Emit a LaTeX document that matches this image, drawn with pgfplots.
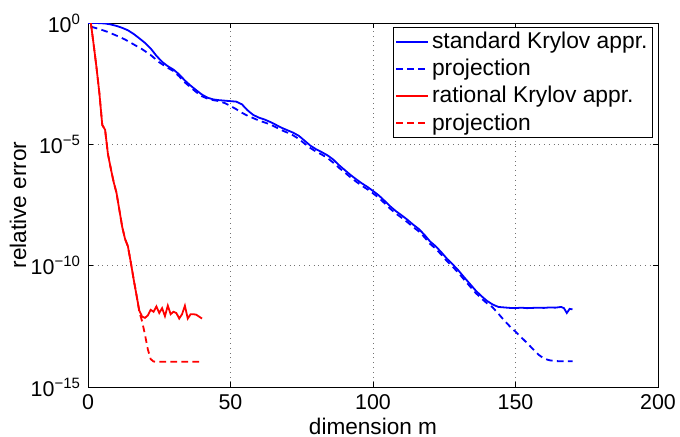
\documentclass[border=0pt]{standalone}
\usepackage{fontspec}
\setmainfont{Liberation Sans}
\usepackage{pgfplots}
\usepackage{pgfplotstable}
\pgfplotsset{compat=1.18}
\usetikzlibrary{calc}

% columns: m = dimension, le = log10(relative error)
\pgfplotstableread{
m le
0 0
3 0
6 -0.02
8 -0.06
10 -0.12
12 -0.2
14 -0.3
16 -0.45
18 -0.63
20 -0.82
22 -1.05
24 -1.35
26 -1.6
28 -1.78
30 -1.92
32 -2.12
34 -2.37
36 -2.58
38 -2.77
40 -2.95
42 -3.08
44 -3.15
46 -3.18
48 -3.2
50 -3.22
52 -3.24
54 -3.35
56 -3.6
58 -3.79
60 -3.9
62 -3.98
64 -4.08
66 -4.2
68 -4.32
70 -4.42
72 -4.52
74 -4.65
76 -4.85
78 -5.05
80 -5.2
82 -5.32
84 -5.45
86 -5.62
88 -5.85
90 -6.05
92 -6.25
94 -6.43
96 -6.6
98 -6.75
100 -6.92
102 -7.1
104 -7.32
106 -7.55
108 -7.75
110 -7.92
112 -8.1
114 -8.3
116 -8.48
118 -8.72
120 -9.0
122 -9.2
124 -9.45
126 -9.72
128 -9.95
130 -10.2
132 -10.48
134 -10.75
136 -11.02
138 -11.25
140 -11.45
142 -11.6
144 -11.7
146 -11.72
148 -11.74
150 -11.75
152 -11.73
154 -11.75
156 -11.74
158 -11.73
160 -11.74
162 -11.72
164 -11.73
166 -11.7
167 -11.75
168 -11.95
169 -11.78
170 -11.8
}\stdappr

\pgfplotstableread{
m le
1 -0.15
4 -0.25
7 -0.37
10 -0.52
13 -0.68
16 -0.88
19 -1.08
22 -1.32
25 -1.62
28 -1.85
30 -1.98
32 -2.2
34 -2.45
36 -2.65
38 -2.85
40 -3.02
42 -3.12
44 -3.18
46 -3.22
48 -3.3
50 -3.42
52 -3.55
54 -3.7
56 -3.82
58 -3.92
60 -4.02
62 -4.1
64 -4.18
66 -4.3
68 -4.42
70 -4.52
72 -4.63
74 -4.78
76 -4.97
78 -5.15
80 -5.3
82 -5.42
84 -5.56
86 -5.75
88 -5.96
90 -6.15
92 -6.35
94 -6.53
96 -6.7
98 -6.85
100 -7.02
102 -7.2
104 -7.42
106 -7.65
108 -7.85
110 -8.02
112 -8.2
114 -8.4
116 -8.58
118 -8.82
120 -9.1
122 -9.3
124 -9.55
126 -9.82
128 -10.05
130 -10.3
132 -10.58
134 -10.85
136 -11.12
138 -11.35
140 -11.55
142 -11.72
144 -11.98
146 -12.25
148 -12.5
150 -12.72
152 -12.95
154 -13.18
156 -13.42
158 -13.66
160 -13.83
162 -13.9
164 -13.93
166 -13.94
168 -13.94
170 -13.94
}\stdproj

\pgfplotstableread{
m le
1 0
2 -0.9
3 -1.85
4 -2.9
5 -4.2
6 -4.4
7 -5.4
8 -6.0
9 -6.55
10 -7.0
11 -7.7
12 -8.4
13 -8.9
14 -9.2
15 -9.85
16 -10.55
17 -11.2
18 -11.85
19 -12.1
20 -12.15
21 -12.05
22 -11.82
23 -11.9
24 -11.68
25 -11.95
26 -11.75
27 -12.08
28 -11.65
29 -12.0
30 -11.9
31 -11.95
32 -12.18
33 -12.0
34 -11.65
35 -12.18
36 -12.0
37 -12.0
38 -12.02
39 -12.1
40 -12.18
}\ratappr

\pgfplotstableread{
m le
1 0
2 -0.9
3 -1.85
4 -2.9
5 -4.2
6 -4.4
7 -5.4
8 -6.0
9 -6.55
10 -7.0
11 -7.7
12 -8.4
13 -8.9
14 -9.2
15 -9.85
16 -10.55
17 -11.2
18 -11.9
19 -12.3
20 -12.85
21 -13.45
22 -13.85
23 -13.95
24 -13.96
28 -13.96
32 -13.96
36 -13.96
40 -13.96
}\ratproj

\begin{document}
\begin{tikzpicture}
\begin{axis}[
    name=ax,
    scale only axis,
    width=285pt, height=182pt,
    xmin=0, xmax=200,
    ymode=log, ymin=1e-15, ymax=1,
    xtick={0,50,100,150,200},
    ytick={1e-15,1e-10,1e-5,1},
    yticklabels={{10\textsuperscript{−15}},{10\textsuperscript{−10}},{10\textsuperscript{−5}},{10\textsuperscript{0}}},
    minor ytick={},
    /pgf/number format/assume math mode=true,
    tick label style={font=\fontsize{10.7}{12}\selectfont},
    label style={font=\fontsize{11.3}{13}\selectfont},
    xlabel={dimension m},
    ylabel={relative error},
    xlabel style={at={(axis description cs:0.5,-0.107)}, anchor=center},
    ylabel style={at={(axis description cs:-0.1228,0.5)}, anchor=center, rotate=0},
    tick align=inside,
    major tick length=2.5pt,
    xmajorgrids, ymajorgrids,
    grid style={dotted, black!55, line width=0.4pt},
    axis line style={black, line width=0.5pt},
    every tick/.style={black, line width=0.5pt},
    legend cell align=left,
    legend style={
        at={(0.991,0.989)}, anchor=north east,
        draw=black,
        font=\fontsize{11.4}{13}\selectfont,
        inner xsep=1pt, inner ysep=0.5pt, row sep=0pt,
        nodes={inner xsep=1.5pt, inner ysep=1.9pt},
    },
    legend image code/.code={\draw[#1] (0pt,0pt) -- (16pt,0pt);},
]
\addplot[blue, line width=0.9pt] table[x=m, y expr=10^(\thisrow{le})] {\stdappr};
\addlegendentry{standard Krylov appr.}
\addplot[blue, line width=0.9pt, dash pattern=on 3.3pt off 2.2pt] table[x=m, y expr=10^(\thisrow{le})] {\stdproj};
\addlegendentry{projection}
\addplot[red, line width=0.9pt] table[x=m, y expr=10^(\thisrow{le})] {\ratappr};
\addlegendentry{rational Krylov appr.}
\addplot[red, line width=0.9pt, dash pattern=on 3.3pt off 2.2pt] table[x=m, y expr=10^(\thisrow{le})] {\ratproj};
\addlegendentry{projection}
\end{axis}
\pgfresetboundingbox
\path ($(ax.south west)+(-44pt,-24.5pt)$) rectangle ($(ax.north east)+(11pt,11.5pt)$);
\end{tikzpicture}
\end{document}
